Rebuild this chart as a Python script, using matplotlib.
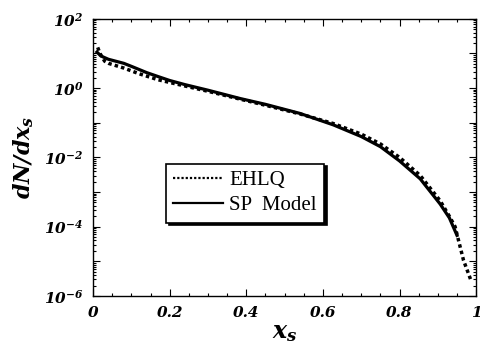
import numpy as np
import matplotlib
matplotlib.use("Agg")
import matplotlib.pyplot as plt
from matplotlib.ticker import MultipleLocator, LogLocator, NullFormatter, FixedLocator

plt.rcParams['mathtext.fontset'] = 'custom'
plt.rcParams['mathtext.rm'] = 'DejaVu Serif:bold:italic'
plt.rcParams['mathtext.it'] = 'DejaVu Serif:bold:italic'
plt.rcParams['mathtext.bf'] = 'DejaVu Serif:bold:italic'

# SP model curve (solid)
sp_x = [0.01, 0.02, 0.04, 0.08, 0.10, 0.12, 0.14, 0.17, 0.20, 0.24, 0.30, 0.384, 0.45, 0.54,
        0.627, 0.70, 0.75, 0.80, 0.854, 0.906, 0.93, 0.95]
sp_y = [11.0, 8.5, 6.8, 5.2, 4.25, 3.45, 2.8, 2.15, 1.66, 1.26, 0.87, 0.50, 0.34, 0.186,
        0.087, 0.040, 0.0204, 0.0079, 0.0024, 4.5e-4, 1.8e-4, 5.6e-5]

# EHLQ curve (dotted)
ehlq_x = [0.012, 0.018, 0.03, 0.04, 0.08, 0.12, 0.17, 0.24, 0.30, 0.384, 0.45,
          0.54, 0.627, 0.70, 0.75, 0.80, 0.854, 0.906, 0.93, 0.945, 0.967, 0.986]
ehlq_y = [15, 10, 6.0, 5.2, 3.8, 2.6, 1.74, 1.15, 0.81, 0.48, 0.32,
          0.18, 0.095, 0.047, 0.0245, 0.010, 0.0030, 5.6e-4, 2.0e-4, 1.0e-4, 1.07e-5, 2.9e-6]

fig = plt.figure(figsize=(4.8, 3.49), dpi=100)
ax = fig.add_axes([0.194, 0.152, 0.798, 0.794])

ax.plot(ehlq_x, ehlq_y, color='black', lw=2.5, linestyle=(0, (1, 0.9)), label='EHLQ')
ax.plot(sp_x, sp_y, color='black', lw=2.3, label='SP  Model')

ax.set_yscale('log')
ax.set_xlim(0, 1)
ax.set_ylim(1e-6, 1e2)

ax.xaxis.set_major_locator(MultipleLocator(0.2))
ax.xaxis.set_minor_locator(MultipleLocator(0.05))
ax.yaxis.set_major_locator(FixedLocator([1e-6, 1e-5, 1e-4, 1e-3, 1e-2, 1e-1, 1, 10, 100]))
ax.yaxis.set_minor_locator(LogLocator(base=10, subs=np.arange(2, 10), numticks=20))
ax.yaxis.set_minor_formatter(NullFormatter())

def yfmt(v, pos):
    e = int(round(np.log10(v)))
    if e % 2:
        return ''
    return r'$10^{%d}$' % e

def xfmt(v, pos):
    if abs(v) < 1e-9:
        return '0'
    if abs(v - 1) < 1e-9:
        return '1'
    return '%.1f' % v

ax.yaxis.set_major_formatter(plt.FuncFormatter(yfmt))
ax.xaxis.set_major_formatter(plt.FuncFormatter(xfmt))

ax.tick_params(which='both', direction='in', top=True, right=True, width=0.8)
ax.tick_params(which='major', length=5, labelsize=11, pad=7)
ax.tick_params(which='minor', length=2.5)
for lab in ax.get_xticklabels():
    lab.set_fontfamily('DejaVu Serif')
    lab.set_fontweight('bold')
    lab.set_fontstyle('italic')
for sp in ax.spines.values():
    sp.set_linewidth(1.0)

ax.set_xlabel(r'$x_s$', fontsize=17, labelpad=0)
ax.set_ylabel(r'$dN/dx_s$', fontsize=16, labelpad=6)

leg = ax.legend(loc='lower left', bbox_to_anchor=(0.19, 0.265), frameon=True, fancybox=False,
                shadow={'color': 'black', 'alpha': 1.0}, handlelength=2.4, handletextpad=0.3,
                borderpad=0.35, labelspacing=0.25, borderaxespad=0,
                prop={'family': 'Liberation Serif', 'size': 15})
leg.get_frame().set_edgecolor('black')
leg.get_frame().set_linewidth(1.2)
for h in leg.get_lines():
    h.set_linewidth(1.6)

fig.savefig('out.png', dpi=100)
